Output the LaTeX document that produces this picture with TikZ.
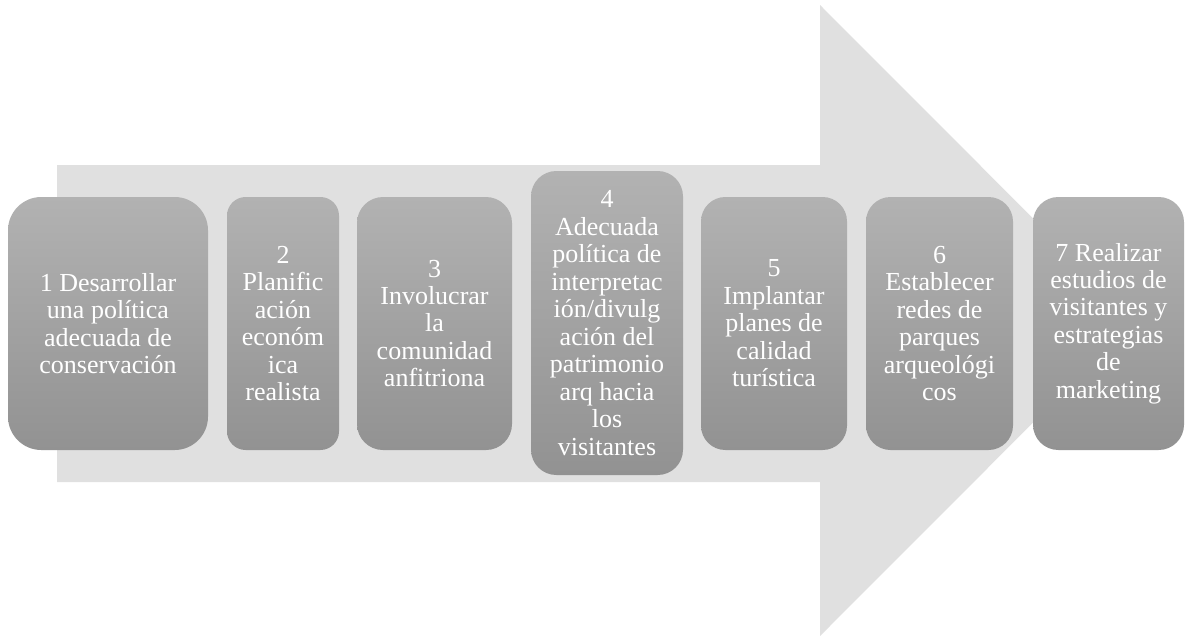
\documentclass[tikz,border=0pt]{standalone}
\usepackage{fontspec}
\setmainfont{Liberation Serif}
\definecolor{arrowfill}{RGB}{224,224,224}
\definecolor{boxtop}{RGB}{178,178,178}
\definecolor{boxbot}{RGB}{146,146,146}
\tikzset{
  stepbox/.style={shape=rectangle, inner sep=0pt, align=center, text=white,
    top color=boxtop, bottom color=boxbot, draw=none,
    font=\fontsize{19.5}{20.6}\selectfont},
  bigarrow/.style={fill=arrowfill, draw=none}
}
\begin{document}
\begin{tikzpicture}[x=0.75pt,y=-0.75pt]
\useasboundingbox (0,0) rectangle (1186,636);
\fill[white] (0,0) rectangle (1186,636);
\path[bigarrow] (57,165) -- (820,165) -- (820,5) -- (1135,320.5) -- (820,636) -- (820,482) -- (57,482) -- cycle;
\node[stepbox, minimum width=150pt, minimum height=189.75pt, rounded corners=25pt] (s1) at (108,323.5)
  {1 Desarrollar\\una política\\adecuada de\\conservación};
\node[stepbox, minimum width=84pt, minimum height=189.75pt, rounded corners=14pt] (s2) at (283,323.5)
  {2\\Planific\\ación\\económ\\ica\\realista};
\node[stepbox, minimum width=116.25pt, minimum height=189.75pt, rounded corners=19.5pt] (s3) at (434.5,323.5)
  {3\\Involucrar\\la\\comunidad\\anfitriona};
\node[stepbox, minimum width=114pt, minimum height=228pt, rounded corners=19pt] (s4) at (607,323)
  {4\\Adecuada\\política de\\interpretac\\ión/divulg\\ación del\\patrimonio\\arq hacia\\los\\visitantes};
\node[stepbox, minimum width=109.5pt, minimum height=189.75pt, rounded corners=18.25pt] (s5) at (774,323.5)
  {5\\Implantar\\planes de\\calidad\\turística};
\node[stepbox, minimum width=110.25pt, minimum height=189.75pt, rounded corners=18.4pt] (s6) at (939.5,323.5)
  {6\\Establecer\\redes de\\parques\\arqueológi\\cos};
\node[stepbox, minimum width=113.25pt, minimum height=189.75pt, rounded corners=19pt] (s7) at (1108.5,323.5)
  {7 Realizar\\estudios de\\visitantes y\\estrategias\\de\\marketing};
\end{tikzpicture}
\end{document}
